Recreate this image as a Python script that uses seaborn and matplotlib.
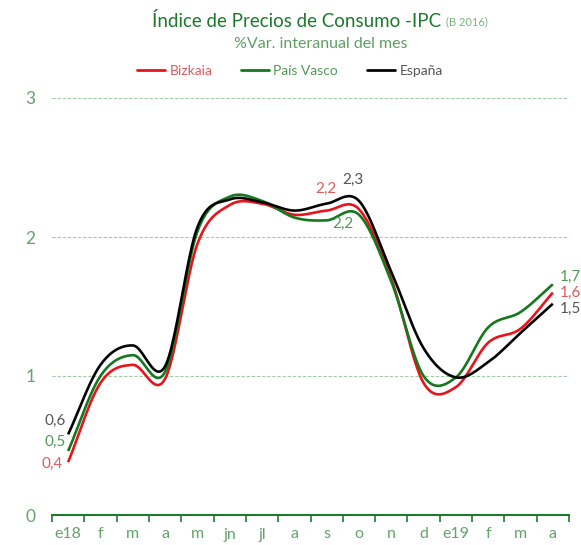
import numpy as np
import pandas as pd
import matplotlib
matplotlib.use("Agg")
import matplotlib.pyplot as plt
from matplotlib.lines import Line2D
import seaborn as sns

# ---------------- data ----------------
months = ['e18', 'f', 'm', 'a', 'm', 'jn', 'jl', 'a', 's', 'o', 'n', 'd', 'e19', 'f', 'm', 'a']
bizkaia = [0.38, 0.95, 1.08, 0.98, 1.95, 2.23, 2.24, 2.16, 2.19, 2.20, 1.70, 0.95, 0.92, 1.24, 1.34, 1.60]
pais_vasco = [0.46, 1.00, 1.15, 1.03, 2.04, 2.29, 2.26, 2.14, 2.12, 2.16, 1.68, 1.00, 0.99, 1.35, 1.46, 1.66]
espana = [0.58, 1.08, 1.22, 1.07, 2.07, 2.27, 2.25, 2.19, 2.24, 2.26, 1.75, 1.20, 0.99, 1.10, 1.31, 1.52]
series_names = ['Bizkaia', 'País Vasco', 'España']
y_ticks = [0, 1, 2, 3]
title = 'Índice de Precios de Consumo -IPC'
title_base = '(B 2016)'
subtitle = '%Var. interanual del mes'

# ---------------- style ----------------
sns.set_theme(style='white')
plt.rcParams['font.family'] = ['Lato', 'DejaVu Sans']

line_colors = {'Bizkaia': '#e8141c', 'País Vasco': '#15781f', 'España': '#050505'}
text_colors = {'Bizkaia': '#e25a5c', 'País Vasco': '#4f9a57', 'España': '#555555'}
axis_green = '#1e7a2e'
tick_green = '#62a46a'

values = {'Bizkaia': bizkaia, 'País Vasco': pais_vasco, 'España': espana}


def smooth(y, n=24):
    y = np.asarray(y, float)
    N = len(y)
    m = np.empty(N)
    m[1:-1] = (y[2:] - y[:-2]) / 2
    m[0] = y[1] - y[0]
    m[-1] = y[-1] - y[-2]
    xs, ys = [], []
    for i in range(N - 1):
        t = np.linspace(0, 1, n, endpoint=(i == N - 2))
        h00 = 2 * t**3 - 3 * t**2 + 1
        h10 = t**3 - 2 * t**2 + t
        h01 = -2 * t**3 + 3 * t**2
        h11 = t**3 - t**2
        ys.append(h00 * y[i] + h10 * m[i] + h01 * y[i + 1] + h11 * m[i + 1])
        xs.append(i + t)
    return np.concatenate(xs), np.concatenate(ys)


frames = []
for name in series_names:
    sx, sy = smooth(values[name])
    frames.append(pd.DataFrame({'x': sx, 'value': sy, 'serie': name}))
df = pd.concat(frames, ignore_index=True)

W, H = 581, 545
fig = plt.figure(figsize=(W / 100, H / 100), dpi=100)
ax = fig.add_axes([52 / W, 1 - 515 / H, (569 - 52) / W, (515 - 98) / H])

sns.lineplot(data=df, x='x', y='value', hue='serie', hue_order=series_names,
             palette=line_colors, sort=False, estimator=None, lw=1.9,
             legend=False, ax=ax)
for l in ax.get_lines():
    l.set_clip_on(False)
    l.set_solid_capstyle('butt')

ax.set_xlim(-0.5, len(months) - 0.5)
ax.set_ylim(0, 3)
ax.set_xlabel('')
ax.set_ylabel('')

# x axis: tick marks at boundaries, labels at centres
ax.set_xticks(np.arange(-0.5, len(months), 1))
ax.set_xticklabels([''] * (len(months) + 1))
ax.set_xticks(np.arange(len(months)), minor=True)
ax.set_xticklabels(months, minor=True)
ax.tick_params(axis='x', which='major', length=5, width=1.2, color=axis_green,
               direction='out', bottom=True)
ax.tick_params(axis='x', which='minor', length=0, pad=9, labelsize=11.5,
               labelcolor=tick_green, bottom=True)

ax.set_yticks(y_ticks)
ax.set_yticklabels([str(v) for v in y_ticks])
ax.tick_params(axis='y', length=0, pad=12, labelsize=12.5, labelcolor=tick_green)

ax.yaxis.grid(True, ls=(0, (3, 1.6)), color='#a3cba3', lw=0.8)
ax.xaxis.grid(False)
ax.set_axisbelow(True)
for s in ['top', 'right', 'left']:
    ax.spines[s].set_visible(False)
ax.spines['bottom'].set_color(axis_green)
ax.spines['bottom'].set_linewidth(1.5)

# data labels
def fmt(v):
    return f'{v:.1f}'.replace('.', ',')

first = {'España': (-2, 13), 'País Vasco': (-2, 9), 'Bizkaia': (-5, -2)}
for name, (dx, dy) in first.items():
    ax.annotate(fmt(values[name][0]), (0, values[name][0]), xytext=(dx, dy),
                textcoords='offset pixels', ha='right', va='center',
                fontsize=11, color=text_colors[name], annotation_clip=False)

last_i = len(months) - 1
last = {'País Vasco': (7, 7), 'Bizkaia': (7, 0), 'España': (7, -5)}
for name, (dx, dy) in last.items():
    ax.annotate(fmt(values[name][-1]), (last_i, values[name][-1]), xytext=(dx, dy),
                textcoords='offset pixels', ha='left', va='center',
                fontsize=11, color=text_colors[name], annotation_clip=False)

oct_i = 9
mid = {'España': (-17, 21, 'left'), 'Bizkaia': (-22, 20, 'right'), 'País Vasco': (-5, -9, 'right')}
for name, (dx, dy, ha) in mid.items():
    ax.annotate(fmt(values[name][oct_i]), (oct_i, values[name][oct_i]), xytext=(dx, dy),
                textcoords='offset pixels', ha=ha, va='center',
                fontsize=11, color=text_colors[name], annotation_clip=False)

# legend
handles = [Line2D([], [], color=line_colors[n], lw=2) for n in series_names]
leg = fig.legend(handles, series_names, loc='center', bbox_to_anchor=(290 / W, 1 - 71 / H),
                 ncol=3, frameon=False, fontsize=10, handlelength=2.0,
                 handletextpad=0.3, columnspacing=2.1)
for txt, n in zip(leg.get_texts(), series_names):
    txt.set_color(text_colors[n])

# titles
t = fig.text(297 / W, 1 - 21 / H, title, ha='center', va='center', fontsize=13.5,
             color='#1b7a2b')
fig.canvas.draw()
bb = t.get_window_extent()
fig.text((bb.x1 + 4) / W, 1 - 22 / H, title_base, ha='left', va='center',
         fontsize=8, color='#7ab47f')
fig.text(321 / W, 1 - 44 / H, subtitle, ha='center', va='center', fontsize=11.5,
         color='#5f9f63')

fig.savefig('out.png', dpi=100)
